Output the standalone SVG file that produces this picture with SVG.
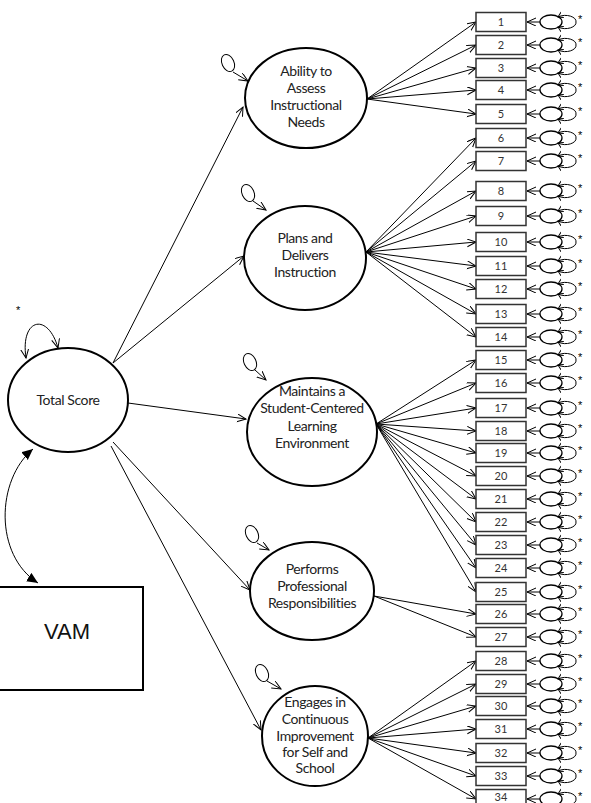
<svg xmlns="http://www.w3.org/2000/svg" xmlns:xlink="http://www.w3.org/1999/xlink" width="591" height="803" viewBox="0 0 591 803">
<style>
.lat{fill:#fff;stroke:#000;stroke-width:2}
.ln{fill:none;stroke:#000;stroke-width:1}
.lbl{font-family:Lato,"Liberation Sans",sans-serif;font-size:14px;fill:#222;text-anchor:middle;letter-spacing:-0.4px}
.box{fill:#fff;stroke:#333;stroke-width:1.5}
.num{font-family:Lato,"Liberation Sans",sans-serif;font-size:11px;fill:#333;text-anchor:middle}
.sl{fill:none;stroke:#000;stroke-width:1}
.star{font-family:"Liberation Sans",sans-serif;font-size:11px;fill:#000}
</style>
<defs>
<marker id="oa" markerUnits="userSpaceOnUse" markerWidth="12" markerHeight="10" refX="9" refY="4" orient="auto"><path d="M0,0 L9,4 L0,8" fill="none" stroke="#000" stroke-width="1"/></marker>
<marker id="sa" markerUnits="userSpaceOnUse" markerWidth="8" markerHeight="8" refX="5" refY="3" orient="auto-start-reverse"><path d="M0,0 L5,3 L0,6" fill="none" stroke="#000" stroke-width="1"/></marker>
<marker id="fa" markerUnits="userSpaceOnUse" markerWidth="14" markerHeight="12" refX="11" refY="5" orient="auto-start-reverse"><path d="M0,0 L11,5 L0,10 Z" fill="#000"/></marker>
<marker id="la" markerUnits="userSpaceOnUse" markerWidth="12" markerHeight="10" refX="9" refY="4" orient="auto-start-reverse"><path d="M0,0 L9,4 L0,8" fill="none" stroke="#000" stroke-width="1"/></marker>
<g id="et">
<line x1="540" y1="0" x2="527" y2="0" class="ln" marker-end="url(#oa)"/>
<ellipse cx="551" cy="0" rx="11" ry="7" fill="#fff" stroke="#000" stroke-width="1.3"/>
<path d="M558,-5 C566,-9 577,-5 576,0 C577,5 566,9 558,5" class="sl" marker-start="url(#sa)" marker-end="url(#sa)"/>
<text x="578" y="1" class="star">*</text>
</g>
</defs>

<g id="connectors">
<line x1="113" y1="363" x2="243" y2="107" class="ln" marker-end="url(#oa)"/>
<line x1="113" y1="363" x2="244" y2="256" class="ln" marker-end="url(#oa)"/>
<line x1="128" y1="403" x2="246" y2="419" class="ln" marker-end="url(#oa)"/>
<line x1="113" y1="442" x2="250" y2="590" class="ln" marker-end="url(#oa)"/>
<line x1="111" y1="446" x2="261" y2="730" class="ln" marker-end="url(#oa)"/>
<path d="M26,358 C20,318 48,312 58,348" class="ln" marker-start="url(#la)" marker-end="url(#la)"/>
<path d="M33,449 C-4,480 -6,555 38,583" class="ln" marker-start="url(#fa)" marker-end="url(#fa)"/>
<path d="M233,72 L248,81" class="ln" marker-end="url(#la)"/>
<path d="M253,201 L266,210" class="ln" marker-end="url(#la)"/>
<path d="M255,370 L266,380" class="ln" marker-end="url(#la)"/>
<path d="M257,543 L269,550" class="ln" marker-end="url(#la)"/>
<path d="M267,681 L281,689" class="ln" marker-end="url(#la)"/>
<g>
<line x1="367" y1="99" x2="476" y2="22" class="ln" marker-end="url(#oa)"/>
<line x1="367" y1="99" x2="476" y2="45" class="ln" marker-end="url(#oa)"/>
<line x1="367" y1="99" x2="476" y2="68" class="ln" marker-end="url(#oa)"/>
<line x1="367" y1="99" x2="476" y2="90" class="ln" marker-end="url(#oa)"/>
<line x1="367" y1="99" x2="476" y2="114" class="ln" marker-end="url(#oa)"/>
</g>
<g>
<line x1="366" y1="252" x2="476" y2="138" class="ln" marker-end="url(#oa)"/>
<line x1="366" y1="252" x2="476" y2="161" class="ln" marker-end="url(#oa)"/>
<line x1="366" y1="252" x2="476" y2="191" class="ln" marker-end="url(#oa)"/>
<line x1="366" y1="252" x2="476" y2="216" class="ln" marker-end="url(#oa)"/>
<line x1="366" y1="252" x2="476" y2="242" class="ln" marker-end="url(#oa)"/>
<line x1="366" y1="252" x2="476" y2="266" class="ln" marker-end="url(#oa)"/>
<line x1="366" y1="252" x2="476" y2="289" class="ln" marker-end="url(#oa)"/>
<line x1="366" y1="252" x2="476" y2="314" class="ln" marker-end="url(#oa)"/>
<line x1="366" y1="252" x2="476" y2="337" class="ln" marker-end="url(#oa)"/>
</g>
<g>
<line x1="376" y1="424" x2="476" y2="360" class="ln" marker-end="url(#oa)"/>
<line x1="376" y1="424" x2="476" y2="383" class="ln" marker-end="url(#oa)"/>
<line x1="376" y1="424" x2="476" y2="408" class="ln" marker-end="url(#oa)"/>
<line x1="376" y1="424" x2="476" y2="431" class="ln" marker-end="url(#oa)"/>
<line x1="376" y1="424" x2="476" y2="453" class="ln" marker-end="url(#oa)"/>
<line x1="376" y1="424" x2="476" y2="476" class="ln" marker-end="url(#oa)"/>
<line x1="376" y1="424" x2="476" y2="499" class="ln" marker-end="url(#oa)"/>
<line x1="376" y1="424" x2="476" y2="522" class="ln" marker-end="url(#oa)"/>
<line x1="376" y1="424" x2="476" y2="545" class="ln" marker-end="url(#oa)"/>
<line x1="376" y1="424" x2="476" y2="568" class="ln" marker-end="url(#oa)"/>
<line x1="376" y1="424" x2="476" y2="592" class="ln" marker-end="url(#oa)"/>
</g>
<g>
<line x1="374" y1="596" x2="476" y2="614" class="ln" marker-end="url(#oa)"/>
<line x1="374" y1="596" x2="476" y2="637" class="ln" marker-end="url(#oa)"/>
</g>
<g>
<line x1="368" y1="738" x2="476" y2="661" class="ln" marker-end="url(#oa)"/>
<line x1="368" y1="738" x2="476" y2="684" class="ln" marker-end="url(#oa)"/>
<line x1="368" y1="738" x2="476" y2="706" class="ln" marker-end="url(#oa)"/>
<line x1="368" y1="738" x2="476" y2="729" class="ln" marker-end="url(#oa)"/>
<line x1="368" y1="738" x2="476" y2="753" class="ln" marker-end="url(#oa)"/>
<line x1="368" y1="738" x2="476" y2="776" class="ln" marker-end="url(#oa)"/>
<line x1="368" y1="738" x2="476" y2="799" class="ln" marker-end="url(#oa)"/>
</g>
</g>

<g id="total-score">
<ellipse cx="68" cy="400" rx="60" ry="52" class="lat"/>
<text x="68" y="405" class="lbl">Total Score</text>
<text x="16" y="314" class="star">*</text>
</g>

<g id="vam">
<rect x="-2" y="587" width="145" height="103" fill="#fff" stroke="#000" stroke-width="2"/>
<text x="67" y="639" font-family="'Liberation Sans',Arial,sans-serif" font-size="22" fill="#111" text-anchor="middle">VAM</text>
</g>

<g id="f-ability">
<ellipse cx="228" cy="63" rx="6" ry="9" transform="rotate(-25 228 63)" class="sl"/>
<ellipse cx="306" cy="98" rx="61" ry="50" class="lat"/>
<text class="lbl"><tspan x="306" y="76">Ability to</tspan><tspan x="306" y="93">Assess</tspan><tspan x="306" y="110">Instructional</tspan><tspan x="306" y="127">Needs</tspan></text>
</g>

<g id="f-plans">
<ellipse cx="248" cy="193" rx="6" ry="9" transform="rotate(-25 248 193)" class="sl"/>
<ellipse cx="305" cy="258" rx="61" ry="52" class="lat"/>
<text class="lbl"><tspan x="305" y="243">Plans and</tspan><tspan x="305" y="260">Delivers</tspan><tspan x="305" y="277">Instruction</tspan></text>
</g>

<g id="f-maintains">
<ellipse cx="250" cy="362" rx="6" ry="9" transform="rotate(-25 250 362)" class="sl"/>
<ellipse cx="312" cy="432" rx="65" ry="54" class="lat"/>
<text class="lbl"><tspan x="312" y="396">Maintains a</tspan><tspan x="312" y="413">Student-Centered</tspan><tspan x="312" y="431">Learning</tspan><tspan x="312" y="448">Environment</tspan></text>
</g>

<g id="f-performs">
<ellipse cx="252" cy="534" rx="6" ry="9" transform="rotate(-25 252 534)" class="sl"/>
<ellipse cx="312" cy="591" rx="62" ry="49" class="lat"/>
<text class="lbl"><tspan x="312" y="574">Performs</tspan><tspan x="312" y="591">Professional</tspan><tspan x="312" y="608">Responsibilities</tspan></text>
</g>

<g id="f-engages">
<ellipse cx="262" cy="673" rx="6" ry="9" transform="rotate(-25 262 673)" class="sl"/>
<ellipse cx="315" cy="736" rx="53" ry="50" class="lat"/>
<text class="lbl"><tspan x="315" y="707">Engages in</tspan><tspan x="315" y="724">Continuous</tspan><tspan x="315" y="741">Improvement</tspan><tspan x="315" y="757">for Self and</tspan><tspan x="315" y="773">School</tspan></text>
</g>

<g id="i1"><rect x="476" y="12.5" width="50" height="19" class="box"/><text x="501" y="26" class="num">1</text><use xlink:href="#et" transform="translate(0,22)"/></g>
<g id="i2"><rect x="476" y="35.5" width="50" height="19" class="box"/><text x="501" y="49" class="num">2</text><use xlink:href="#et" transform="translate(0,45)"/></g>
<g id="i3"><rect x="476" y="58.5" width="50" height="19" class="box"/><text x="501" y="72" class="num">3</text><use xlink:href="#et" transform="translate(0,68)"/></g>
<g id="i4"><rect x="476" y="80.5" width="50" height="19" class="box"/><text x="501" y="94" class="num">4</text><use xlink:href="#et" transform="translate(0,90)"/></g>
<g id="i5"><rect x="476" y="104.5" width="50" height="19" class="box"/><text x="501" y="118" class="num">5</text><use xlink:href="#et" transform="translate(0,114)"/></g>
<g id="i6"><rect x="476" y="128.5" width="50" height="19" class="box"/><text x="501" y="142" class="num">6</text><use xlink:href="#et" transform="translate(0,138)"/></g>
<g id="i7"><rect x="476" y="151.5" width="50" height="19" class="box"/><text x="501" y="165" class="num">7</text><use xlink:href="#et" transform="translate(0,161)"/></g>
<g id="i8"><rect x="476" y="181.5" width="50" height="19" class="box"/><text x="501" y="195" class="num">8</text><use xlink:href="#et" transform="translate(0,191)"/></g>
<g id="i9"><rect x="476" y="206.5" width="50" height="19" class="box"/><text x="501" y="220" class="num">9</text><use xlink:href="#et" transform="translate(0,216)"/></g>
<g id="i10"><rect x="476" y="232.5" width="50" height="19" class="box"/><text x="501" y="246" class="num">10</text><use xlink:href="#et" transform="translate(0,242)"/></g>
<g id="i11"><rect x="476" y="256.5" width="50" height="19" class="box"/><text x="501" y="270" class="num">11</text><use xlink:href="#et" transform="translate(0,266)"/></g>
<g id="i12"><rect x="476" y="279.5" width="50" height="19" class="box"/><text x="501" y="293" class="num">12</text><use xlink:href="#et" transform="translate(0,289)"/></g>
<g id="i13"><rect x="476" y="304.5" width="50" height="19" class="box"/><text x="501" y="318" class="num">13</text><use xlink:href="#et" transform="translate(0,314)"/></g>
<g id="i14"><rect x="476" y="327.5" width="50" height="19" class="box"/><text x="501" y="341" class="num">14</text><use xlink:href="#et" transform="translate(0,337)"/></g>
<g id="i15"><rect x="476" y="350.5" width="50" height="19" class="box"/><text x="501" y="364" class="num">15</text><use xlink:href="#et" transform="translate(0,360)"/></g>
<g id="i16"><rect x="476" y="373.5" width="50" height="19" class="box"/><text x="501" y="387" class="num">16</text><use xlink:href="#et" transform="translate(0,383)"/></g>
<g id="i17"><rect x="476" y="398.5" width="50" height="19" class="box"/><text x="501" y="412" class="num">17</text><use xlink:href="#et" transform="translate(0,408)"/></g>
<g id="i18"><rect x="476" y="421.5" width="50" height="19" class="box"/><text x="501" y="435" class="num">18</text><use xlink:href="#et" transform="translate(0,431)"/></g>
<g id="i19"><rect x="476" y="443.5" width="50" height="19" class="box"/><text x="501" y="457" class="num">19</text><use xlink:href="#et" transform="translate(0,453)"/></g>
<g id="i20"><rect x="476" y="466.5" width="50" height="19" class="box"/><text x="501" y="480" class="num">20</text><use xlink:href="#et" transform="translate(0,476)"/></g>
<g id="i21"><rect x="476" y="489.5" width="50" height="19" class="box"/><text x="501" y="503" class="num">21</text><use xlink:href="#et" transform="translate(0,499)"/></g>
<g id="i22"><rect x="476" y="512.5" width="50" height="19" class="box"/><text x="501" y="526" class="num">22</text><use xlink:href="#et" transform="translate(0,522)"/></g>
<g id="i23"><rect x="476" y="535.5" width="50" height="19" class="box"/><text x="501" y="549" class="num">23</text><use xlink:href="#et" transform="translate(0,545)"/></g>
<g id="i24"><rect x="476" y="558.5" width="50" height="19" class="box"/><text x="501" y="572" class="num">24</text><use xlink:href="#et" transform="translate(0,568)"/></g>
<g id="i25"><rect x="476" y="582.5" width="50" height="19" class="box"/><text x="501" y="596" class="num">25</text><use xlink:href="#et" transform="translate(0,592)"/></g>
<g id="i26"><rect x="476" y="604.5" width="50" height="19" class="box"/><text x="501" y="618" class="num">26</text><use xlink:href="#et" transform="translate(0,614)"/></g>
<g id="i27"><rect x="476" y="627.5" width="50" height="19" class="box"/><text x="501" y="641" class="num">27</text><use xlink:href="#et" transform="translate(0,637)"/></g>
<g id="i28"><rect x="476" y="651.5" width="50" height="19" class="box"/><text x="501" y="665" class="num">28</text><use xlink:href="#et" transform="translate(0,661)"/></g>
<g id="i29"><rect x="476" y="674.5" width="50" height="19" class="box"/><text x="501" y="688" class="num">29</text><use xlink:href="#et" transform="translate(0,684)"/></g>
<g id="i30"><rect x="476" y="696.5" width="50" height="19" class="box"/><text x="501" y="710" class="num">30</text><use xlink:href="#et" transform="translate(0,706)"/></g>
<g id="i31"><rect x="476" y="719.5" width="50" height="19" class="box"/><text x="501" y="733" class="num">31</text><use xlink:href="#et" transform="translate(0,729)"/></g>
<g id="i32"><rect x="476" y="743.5" width="50" height="19" class="box"/><text x="501" y="757" class="num">32</text><use xlink:href="#et" transform="translate(0,753)"/></g>
<g id="i33"><rect x="476" y="766.5" width="50" height="19" class="box"/><text x="501" y="780" class="num">33</text><use xlink:href="#et" transform="translate(0,776)"/></g>
<g id="i34"><rect x="476" y="789.5" width="50" height="19" class="box"/><text x="501" y="801" class="num">34</text><use xlink:href="#et" transform="translate(0,799)"/></g>
</svg>
